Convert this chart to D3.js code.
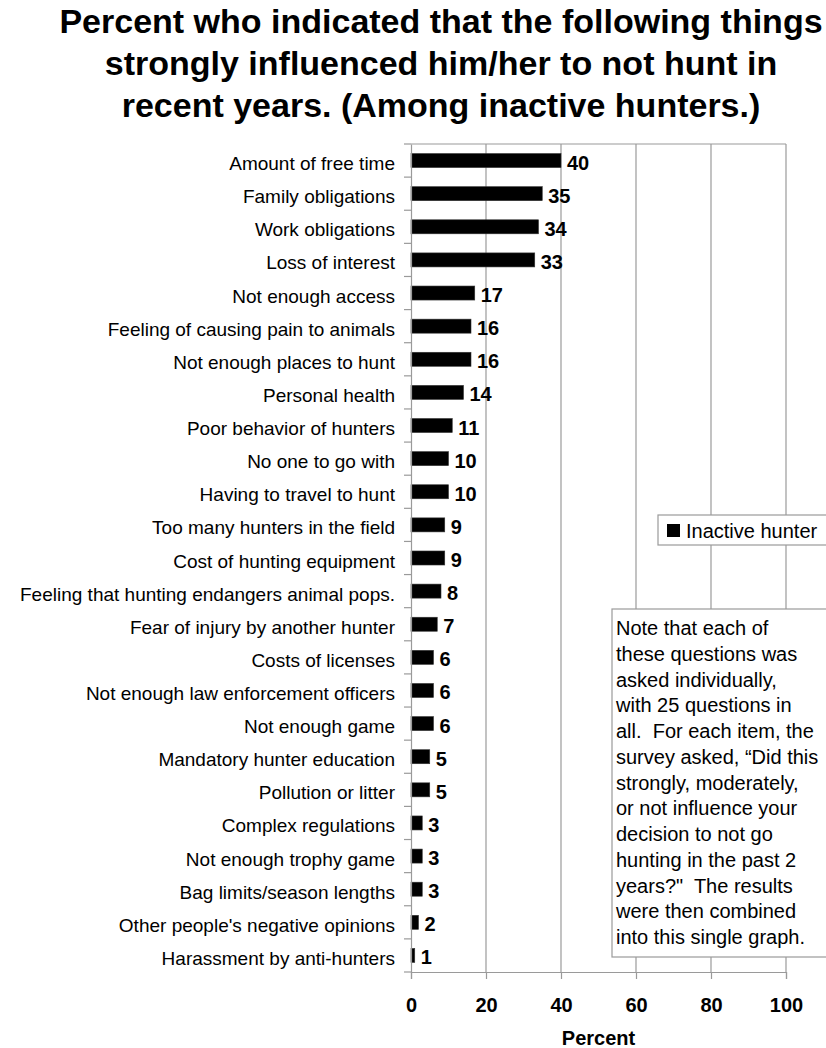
<!DOCTYPE html>
<html>
<head>
<meta charset="utf-8">
<script src="https://cdn.jsdelivr.net/npm/d3@7"></script>
<style>
  html, body { margin: 0; padding: 0; background: #fff; }
  svg { display: block; font-family: "Liberation Sans", Arial, sans-serif; }
</style>
</head>
<body>
<svg id="chart" width="826" height="1048"></svg>
<script>
const titleLines = [
  "Percent who indicated that the following things",
  "strongly influenced him/her to not hunt in",
  "recent years. (Among inactive hunters.)"
];
const categories = [
  "Amount of free time",
  "Family obligations",
  "Work obligations",
  "Loss of interest",
  "Not enough access",
  "Feeling of causing pain to animals",
  "Not enough places to hunt",
  "Personal health",
  "Poor behavior of hunters",
  "No one to go with",
  "Having to travel to hunt",
  "Too many hunters in the field",
  "Cost of hunting equipment",
  "Feeling that hunting endangers animal pops.",
  "Fear of injury by another hunter",
  "Costs of licenses",
  "Not enough law enforcement officers",
  "Not enough game",
  "Mandatory hunter education",
  "Pollution or litter",
  "Complex regulations",
  "Not enough trophy game",
  "Bag limits/season lengths",
  "Other people's negative opinions",
  "Harassment by anti-hunters"
];
const values = [40, 35, 34, 33, 17, 16, 16, 14, 11, 10, 10, 9, 9, 8, 7, 6, 6, 6, 5, 5, 3, 3, 3, 2, 1];
const xTicks = [0, 20, 40, 60, 80, 100];
const seriesName = "Inactive hunter";
const xAxisTitle = "Percent";
const noteLines = [
  "Note that each of",
  "these questions was",
  "asked individually,",
  "with 25 questions in",
  "all.  For each item, the",
  "survey asked, \u201CDid this",
  "strongly, moderately,",
  "or not influence your",
  "decision to not go",
  "hunting in the past 2",
  "years?\"  The results",
  "were then combined",
  "into this single graph."
];

const svg = d3.select("#chart");
const plot = { left: 411, right: 786, top: 144, bottom: 972 };
const grid = "#9a9a9a";

// Title
svg.append("g").selectAll("text").data(titleLines).join("text")
  .attr("x", 441).attr("y", (d, i) => 33 + i * 42)
  .attr("text-anchor", "middle")
  .attr("font-size", 34).attr("font-weight", "bold").attr("fill", "#000")
  .text(d => d);

const x = d3.scaleLinear().domain([0, 100]).range([plot.left, plot.right]);
const y = d3.scaleBand().domain(categories).range([plot.top, plot.bottom]).paddingInner(0.577).paddingOuter(0.2885);

// gridlines
svg.append("g").selectAll("line").data(xTicks.filter(t => t > 0)).join("line")
  .attr("x1", d => x(d)).attr("x2", d => x(d))
  .attr("y1", plot.top).attr("y2", plot.bottom)
  .attr("stroke", grid).attr("stroke-width", 1.2);
// top border
svg.append("line").attr("x1", plot.left).attr("x2", plot.right)
  .attr("y1", plot.top).attr("y2", plot.top).attr("stroke", grid).attr("stroke-width", 1.2);

// Bars
svg.append("g").selectAll("rect").data(categories).join("rect")
  .attr("x", x(0)).attr("y", d => y(d))
  .attr("width", (d, i) => x(values[i]) - x(0))
  .attr("height", y.bandwidth())
  .attr("fill", "#000").attr("stroke", "#333").attr("stroke-width", 0.6);

// Value labels
svg.append("g").selectAll("text").data(categories).join("text")
  .attr("x", (d, i) => x(values[i]) + 6)
  .attr("y", d => y(d) + y.bandwidth() / 2)
  .attr("dy", "0.45em")
  .attr("font-size", 20).attr("font-weight", "bold").attr("fill", "#000")
  .text((d, i) => values[i]);

// Left axis (labels)
const yAxis = svg.append("g").attr("transform", `translate(${plot.left},0)`)
  .call(d3.axisLeft(y).tickSize(0).tickPadding(16));
yAxis.select(".domain").attr("stroke", grid).attr("stroke-width", 1.2);
yAxis.selectAll("text").attr("font-size", 19).attr("font-family", "Liberation Sans, Arial, sans-serif")
  .attr("fill", "#000").attr("dy", "0.5em");
// category boundary ticks
const step = y.step();
svg.append("g").selectAll("line").data(d3.range(categories.length + 1)).join("line")
  .attr("x1", plot.left - 7).attr("x2", plot.left)
  .attr("y1", i => plot.top + i * (plot.bottom - plot.top) / categories.length)
  .attr("y2", i => plot.top + i * (plot.bottom - plot.top) / categories.length)
  .attr("stroke", grid).attr("stroke-width", 1.2);

// Bottom axis
const xAxis = svg.append("g").attr("transform", `translate(0,${plot.bottom})`)
  .call(d3.axisBottom(x).tickValues(xTicks).tickSize(7).tickPadding(0));
xAxis.select(".domain").attr("stroke", grid).attr("stroke-width", 1.2);
xAxis.selectAll(".tick line").attr("stroke", grid).attr("stroke-width", 1.2);
xAxis.selectAll("text").attr("y", 40).attr("dy", 0)
  .attr("font-size", 20).attr("font-weight", "bold")
  .attr("font-family", "Liberation Sans, Arial, sans-serif").attr("fill", "#000");

svg.append("text").attr("x", x(50)).attr("y", 1045)
  .attr("text-anchor", "middle").attr("font-size", 20).attr("font-weight", "bold")
  .attr("fill", "#000").text(xAxisTitle);

// Legend
const lg = svg.append("g");
lg.append("rect").attr("x", 658).attr("y", 515).attr("width", 200).attr("height", 30)
  .attr("fill", "#fff").attr("stroke", grid).attr("stroke-width", 1.2);
lg.append("rect").attr("x", 667).attr("y", 524).attr("width", 13).attr("height", 13).attr("fill", "#000");
lg.append("text").attr("x", 686).attr("y", 537.5).attr("font-size", 20).attr("fill", "#000").text(seriesName);

// Note box
const nb = svg.append("g");
nb.append("rect").attr("x", 612).attr("y", 609).attr("width", 300).attr("height", 348)
  .attr("fill", "#fff").attr("stroke", grid).attr("stroke-width", 1.2);
nb.selectAll("text").data(noteLines).join("text")
  .attr("x", 616).attr("y", (d, i) => 635 + i * 25.75)
  .attr("font-size", 20).attr("fill", "#000")
  .style("white-space", "pre")
  .text(d => d);
</script>
</body>
</html>
